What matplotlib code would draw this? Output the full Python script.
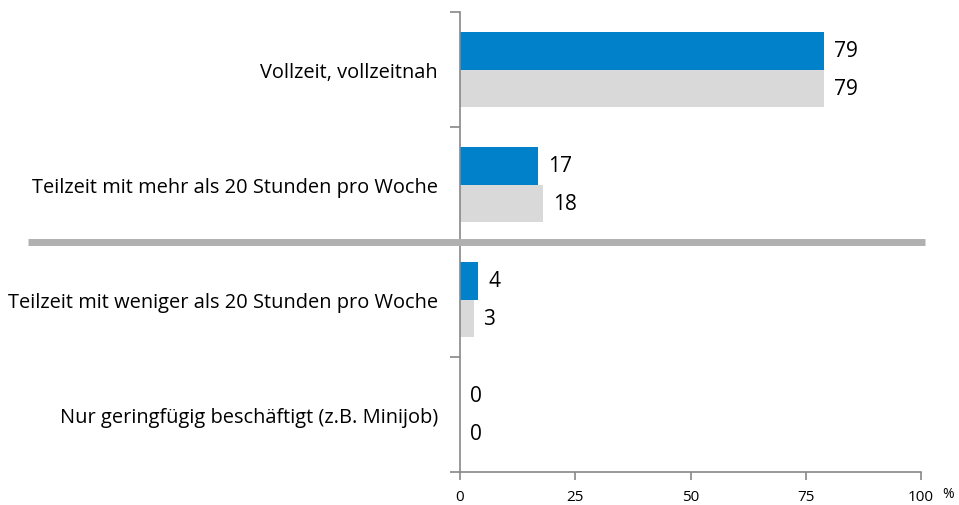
import matplotlib
matplotlib.use("Agg")
import matplotlib.pyplot as plt
import numpy as np

categories = ["Vollzeit, vollzeitnah",
              "Teilzeit mit mehr als 20 Stunden pro Woche",
              "Teilzeit mit weniger als 20 Stunden pro Woche",
              "Nur geringfügig beschäftigt (z.B. Minijob)"]
series_blue = [79, 17, 4, 0]
series_gray = [79, 18, 3, 0]
xticks = [0, 25, 50, 75, 100]

plt.rcParams['font.family'] = ['Open Sans', 'DejaVu Sans']

W, H = 959, 506
fig = plt.figure(figsize=(W/100, H/100), dpi=100)
ax = fig.add_axes([460/W, (H-473)/H, (921-460)/W, (473-13)/H])

n = len(categories)
y = np.arange(n)
bh = 0.33
blue = "#0081C9"
gray = "#D9D9D9"
ax.barh(y - bh/2, series_blue, height=bh, color=blue, edgecolor="none")
ax.barh(y + bh/2, series_gray, height=bh, color=gray, edgecolor="none")

for yi, v in zip(y, series_blue):
    ax.annotate(f"{v}", (v, yi - bh/2), xytext=(7, 0), textcoords="offset points",
                va="center", ha="left", fontsize=15)
for yi, v in zip(y, series_gray):
    ax.annotate(f"{v}", (v, yi + bh/2), xytext=(7, 0), textcoords="offset points",
                va="center", ha="left", fontsize=15)

ax.set_xlim(0, 100)
ax.set_ylim(n - 0.5, -0.5)
ax.set_xticks(xticks)
ax.set_xticklabels([str(t) for t in xticks], fontsize=11)
ax.set_yticks(np.arange(n + 1) - 0.5)
ax.set_yticklabels([])
ax.set_yticks(y, minor=True)
ax.set_yticklabels(categories, minor=True, fontsize=14.4)
ax.tick_params(axis='y', which='minor', length=0, pad=16)
ax.tick_params(axis='y', which='major', length=7, color="#888888", width=1.2)
ax.tick_params(axis='x', length=6, color="#888888", width=1.2, pad=6)

for s in ["top", "right"]:
    ax.spines[s].set_visible(False)
for s in ["left", "bottom"]:
    ax.spines[s].set_color("#888888")
    ax.spines[s].set_linewidth(1.2)

# separator line
fig.add_artist(plt.Line2D([28/W, 925/W], [(H-242.5)/H, (H-242.5)/H],
                          color="#B0B0B0", linewidth=5, solid_capstyle="butt",
                          transform=fig.transFigure))

fig.text(948/W, (H-495)/H, "%", fontsize=10, ha="center", va="center")

fig.savefig("out.png", dpi=100)
